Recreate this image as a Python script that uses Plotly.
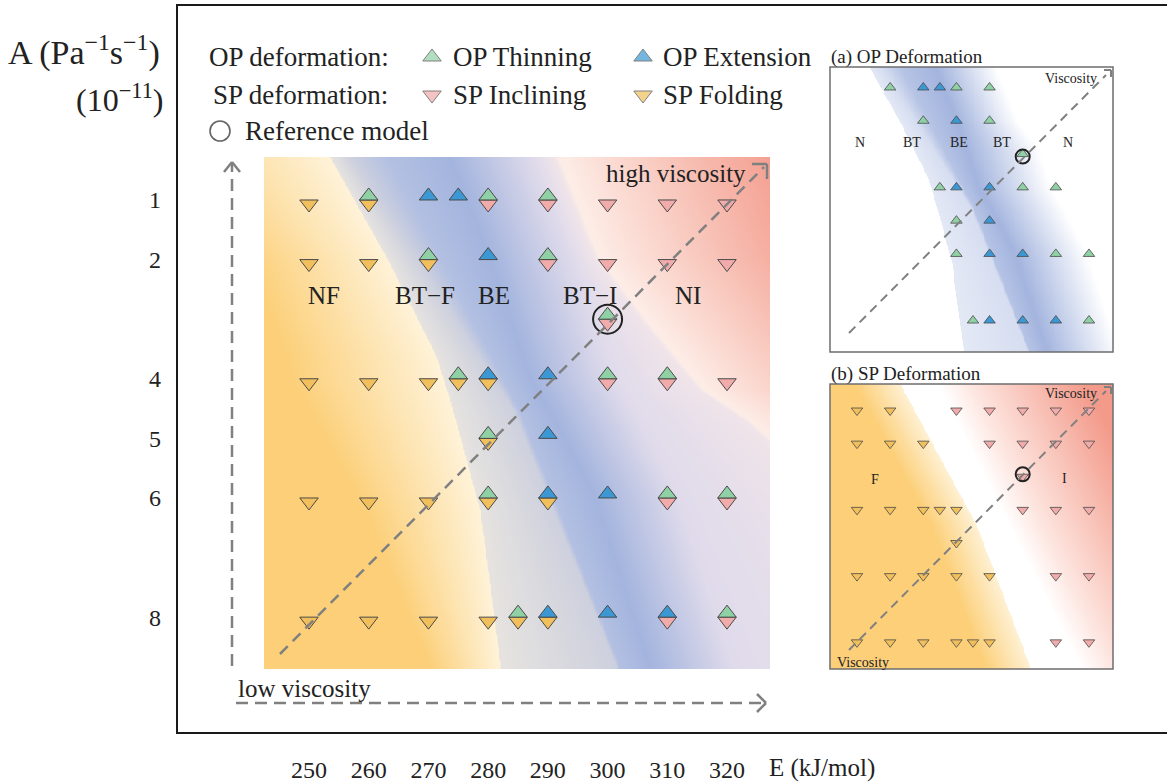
import numpy as np
import plotly.graph_objects as go

W, H = 1167, 784
SERIF = "Liberation Serif, Times New Roman, serif"
INK = "#222222"

# Model grid: activation energy E (kJ/mol) and prefactor A (1e-11 Pa^-1 s^-1)
op_thinning_E = [260, 280, 290, 270, 290, 300, 275, 300, 310, 280, 280, 310, 320, 285, 320]
op_thinning_A = [1, 1, 1, 2, 2, 3, 4, 4, 4, 5, 6, 6, 6, 8, 8]

op_extension_E = [270, 275, 280, 280, 290, 290, 290, 300, 290, 300, 310]
op_extension_A = [1, 1, 2, 4, 4, 5, 6, 6, 8, 8, 8]

sp_inclining_E = [280, 290, 300, 310, 320, 290, 300, 310, 320, 300, 300, 310, 320, 310, 320, 310, 320]
sp_inclining_A = [1, 1, 1, 1, 1, 2, 2, 2, 2, 3, 4, 4, 4, 6, 6, 8, 8]

sp_folding_E = [250, 260, 250, 260, 270, 250, 260, 270, 275, 280, 280,
                250, 260, 270, 280, 290, 250, 260, 270, 280, 285, 290]
sp_folding_A = [1, 1, 2, 2, 2, 4, 4, 4, 4, 4, 5, 6, 6, 6, 6, 6, 8, 8, 8, 8, 8, 8]

reference_E = [300]
reference_A = [3]

E_ticks = [250, 260, 270, 280, 290, 300, 310, 320]
A_ticks = [1, 2, 4, 5, 6, 8]

regime_names = ["NF", "BT\u2212F", "BE", "BT\u2212I", "NI"]
regime_E = [252.5, 269.4, 281.0, 297.0, 313.5]
regime_A = [2.61, 2.61, 2.61, 2.61, 2.61]

op_names = ["N", "BT", "BE", "BT", "N"]
op_name_E = [250.9, 266.6, 280.8, 293.7, 313.6]
op_name_A = [2.59, 2.59, 2.59, 2.59, 2.59]

sp_names = ["F", "I"]
sp_name_E = [255.4, 312.7]
sp_name_A = [3.17, 3.14]

GREEN, BLUE, PINK, ORANGE = "#8fd1a4", "#3c98d4", "#f1abab", "#f1bf5c"
EDGE = "#4a4a4a"


# ---- regime boundaries used to shade the backgrounds ----
def edges(a):
    b1 = np.interp(a, [0.28, 1.95, 3.62, 4.53, 6.2, 8.8], [253.5, 262.9, 271.3, 274.1, 278.6, 282.0])
    b2 = np.interp(a, [0.28, 4.53, 8.8], [263.0, 285.2, 301.9])
    c = np.interp(a, [0.28, 2, 4, 4.53, 5.92, 8.8], [273.6, 280.3, 287.0, 290.2, 297.6, 307.0])
    b3 = np.interp(a, [0.28, 1.95, 3.07, 4.17, 4.67, 5.2, 6, 8.8],
                   [291.9, 298.6, 307.0, 316.0, 323.5, 329.5, 338.0, 365.7])
    return b1, b2, c, b3


eg = np.linspace(241.0, 328.5, 320)
ag = np.linspace(0.15, 9.0, 320)

U = np.empty((ag.size, eg.size))
V = np.empty_like(U)
S = np.empty_like(U)
for i, a in enumerate(ag):
    b1, b2, c, b3 = edges(a)
    wo = np.interp(a, [0.28, 2, 4, 8.8], [30, 24, 26, 12])
    bw = np.interp(a, [0.28, 4.5, 8.8], [6, 1, 0.6])
    U[i] = np.interp(eg, [b1 - wo, b1 - 0.05, b1 + 0.05, b2 - bw, b2, c, c + 14, b3 - 1, b3, b3 + 38],
                     [0, 1, 1.02, 1.3, 1.7, 2, 3, 3.4, 3.5, 4.5])
    end = min(b3, c + 22)
    V[i] = np.interp(eg, [b1 - 0.05, b1 + 0.05, b2 - bw, b2, c, end], [0, 0.3, 0.45, 0.8, 1, 0])
    e1 = np.interp(a, [0.25, 4.53, 8.78], [262.9, 286.0, 302.1])
    e2 = np.interp(a, [0.25, 8.78], [274.1, 317.0])
    S[i] = np.where(eg < e1, -(0.15 + 0.85 * np.clip((e1 - eg) / 14, 0, 1)),
                    np.clip((eg - e2) / 45, 0, 1))

main_scale = [[0, "#fccf78"], [1 / 4.5, "#fef2d8"], [1.02 / 4.5, "#e6e3df"], [1.3 / 4.5, "#cdd0de"],
              [1.7 / 4.5, "#b3c0e2"], [2 / 4.5, "#a3b4de"], [3 / 4.5, "#e0dbeb"],
              [3.4 / 4.5, "#f0e4e9"], [3.5 / 4.5, "#fdede7"], [1, "#f39a8a"]]
op_scale = [[0, "#ffffff"], [1, "#a3b4de"]]
sp_scale = [[0, "#fccf78"], [0.42, "#fef0d2"], [0.4999, "#fef3dc"], [0.5, "#ffffff"],
            [0.62, "#fde4de"], [1, "#f39a8a"]]

fig = go.Figure()
fig.add_trace(go.Heatmap(x=eg, y=ag, z=np.round(U / 4.5, 4), zmin=0, zmax=1, colorscale=main_scale,
                         zsmooth="best", showscale=False, hoverinfo="skip", xaxis="x", yaxis="y"))
fig.add_trace(go.Heatmap(x=eg, y=ag, z=np.round(V, 4), zmin=0, zmax=1, colorscale=op_scale,
                         zsmooth="best", showscale=False, hoverinfo="skip", xaxis="x2", yaxis="y2"))
fig.add_trace(go.Heatmap(x=eg, y=ag, z=np.round((S + 1) / 2, 4), zmin=0, zmax=1, colorscale=sp_scale,
                         zsmooth="best", showscale=False, hoverinfo="skip", xaxis="x3", yaxis="y3"))


def tri(E, A, color, up, size, lw, xa, ya, name):
    # triangles sit on the grid line: OP points upward above it, SP points downward below it
    return go.Scatter(x=E, y=A, mode="markers", name=name, xaxis=xa, yaxis=ya, hoverinfo="skip",
                      marker=dict(symbol="triangle-down", angle=180 if up else 0, standoff=size / 4,
                                  size=size, color=color, line=dict(color=EDGE, width=lw)))


for xa, ya, size, lw, ring, show_op, show_sp in [("x", "y", 16, 1.0, 29, True, True),
                                                  ("x2", "y2", 10, 0.8, 14, True, False),
                                                  ("x3", "y3", 10, 0.8, 14, False, True)]:
    if show_sp:
        fig.add_trace(tri(sp_inclining_E, sp_inclining_A, PINK, False, size, lw, xa, ya, "SP Inclining"))
        fig.add_trace(tri(sp_folding_E, sp_folding_A, ORANGE, False, size, lw, xa, ya, "SP Folding"))
    if show_op:
        fig.add_trace(tri(op_thinning_E, op_thinning_A, GREEN, True, size, lw, xa, ya, "OP Thinning"))
        fig.add_trace(tri(op_extension_E, op_extension_A, BLUE, True, size, lw, xa, ya, "OP Extension"))
    fig.add_trace(go.Scatter(x=reference_E, y=reference_A, mode="markers", name="Reference model",
                             xaxis=xa, yaxis=ya, hoverinfo="skip",
                             marker=dict(symbol="circle-open", size=ring, color=INK,
                                         line=dict(color=INK, width=2))))

# legend keys, drawn on a full-page pixel axis
key_x = [432, 643, 432, 643, 220]
key_y = [57, 57, 95, 95, 131]
key_sym = ["triangle-up", "triangle-up", "triangle-down", "triangle-down", "circle-open"]
key_col = [GREEN, BLUE, PINK, ORANGE, INK]
key_size = [16, 16, 16, 16, 20]
fig.add_trace(go.Scatter(x=key_x, y=key_y, mode="markers", xaxis="x4", yaxis="y4", hoverinfo="skip",
                         marker=dict(symbol=key_sym, color=key_col, size=key_size,
                                     line=dict(color=[EDGE] * 4 + [INK], width=[1, 1, 1, 1, 1.6]))))


def dom_x(a, b):
    return [a / W, b / W]


def dom_y(top, bottom):
    return [1 - bottom / H, 1 - top / H]


hidden = dict(showgrid=False, zeroline=False, showline=False, ticks="", showticklabels=False)
fig.update_layout(
    width=W, height=H, margin=dict(l=0, r=0, t=0, b=0),
    paper_bgcolor="white", plot_bgcolor="rgba(0,0,0,0)", showlegend=False,
    font=dict(family=SERIF, color=INK),
    xaxis=dict(domain=dom_x(264, 770), range=[242.46, 327.2], tickvals=E_ticks,
               ticktext=[str(v) for v in E_ticks], showgrid=False, zeroline=False, showline=False,
               ticks="", ticklabelstandoff=84, tickfont=dict(family=SERIF, size=24, color=INK)),
    yaxis=dict(domain=dom_y(157, 669), range=[8.87, 0.279], tickvals=A_ticks,
               ticktext=[str(v) for v in A_ticks], showgrid=False, zeroline=False, showline=False,
               ticks="", ticklabelstandoff=102, tickfont=dict(family=SERIF, size=24, color=INK)),
    xaxis2=dict(domain=dom_x(830, 1113), range=[241.85, 327.25], anchor="y2", **hidden),
    yaxis2=dict(domain=dom_y(67, 352), range=[8.87, 0.31], anchor="x2", **hidden),
    xaxis3=dict(domain=dom_x(830, 1113), range=[241.85, 327.25], anchor="y3", **hidden),
    yaxis3=dict(domain=dom_y(384, 669), range=[8.88, 0.275], anchor="x3", **hidden),
    xaxis4=dict(domain=[0, 1], range=[0, W], anchor="y4", **hidden),
    yaxis4=dict(domain=[0, 1], range=[H, 0], anchor="x4", **hidden),
)


def line(x0, y0, x1, y1, color="#808080", width=2.5, dash=None):
    ln = dict(color=color, width=width)
    if dash:
        ln["dash"] = dash
    return dict(type="line", xref="paper", yref="paper", x0=x0 / W, y0=1 - y0 / H,
                x1=x1 / W, y1=1 - y1 / H, line=ln, layer="above")


shapes = [
    # outer frame
    dict(type="rect", xref="paper", yref="paper", x0=177 / W, y0=1 - 733 / H, x1=1.01, y1=1 - 5 / H,
         line=dict(color="#1a1a1a", width=2), layer="below"),
    # inset frames
    dict(type="rect", xref="paper", yref="paper", x0=830 / W, y0=1 - 352 / H, x1=1113 / W, y1=1 - 67 / H,
         line=dict(color="#6e6e6e", width=1.5), layer="above"),
    dict(type="rect", xref="paper", yref="paper", x0=830 / W, y0=1 - 669 / H, x1=1113 / W, y1=1 - 384 / H,
         line=dict(color="#6e6e6e", width=1.5), layer="above"),
    # viscosity arrows of the main panel
    line(280, 654, 764, 167, dash="11px,7px"),
    line(752, 164, 767, 164), line(767, 164, 767, 179),
    line(232, 666, 232, 163, dash="12px,7px"),
    line(224, 172, 232, 162), line(232, 162, 240, 172),
    line(236, 703, 764, 703, dash="12px,7px"),
    line(757, 694, 766, 703), line(766, 703, 757, 712),
    # viscosity arrows of the insets
    line(849, 333, 1106, 75, width=2, dash="9px,6px"),
    line(1104, 70, 1111, 70, width=2), line(1111, 70, 1111, 77, width=2),
    line(849, 650, 1106, 391, width=2, dash="9px,6px"),
    line(1104, 387, 1111, 387, width=2), line(1111, 387, 1111, 394, width=2),
]


def text(t, x, y, size, xanchor="left"):
    return dict(text=t, x=x / W, y=1 - y / H, xref="paper", yref="paper", xanchor=xanchor,
                yanchor="middle", showarrow=False, font=dict(family=SERIF, size=size, color=INK))


ann = [
    text("A (Pa<sup>\u22121</sup>s<sup>\u22121</sup>)", 6, 50, 34),
    text("(10<sup>\u221211</sup>)", 166, 98, 32, xanchor="right"),
    text("OP deformation:", 207, 57, 27),
    text("SP deformation:", 211, 95, 27),
    text("Reference model", 243, 131, 27),
    text("OP Thinning", 451, 57, 27),
    text("OP Extension", 661, 57, 27),
    text("SP Inclining", 451, 95, 27),
    text("SP Folding", 661, 95, 27),
    text("high viscosity", 676, 173, 25, xanchor="center"),
    text("low viscosity", 236, 688, 25),
    text("E (kJ/mol)", 767, 768, 25),
    text("(a) OP Deformation", 829, 57, 19),
    text("(b) SP Deformation", 829, 374, 19),
    text("Viscosity", 1099, 79, 14, xanchor="right"),
    text("Viscosity", 1099, 393, 14, xanchor="right"),
    text("Viscosity", 835, 662, 14),
]
for n, e, a in zip(regime_names, regime_E, regime_A):
    ann.append(dict(text=n, x=e, y=a, xref="x", yref="y", showarrow=False,
                    font=dict(family=SERIF, size=25, color=INK)))
for n, e, a in zip(op_names, op_name_E, op_name_A):
    ann.append(dict(text=n, x=e, y=a, xref="x2", yref="y2", showarrow=False,
                    font=dict(family=SERIF, size=14, color=INK)))
for n, e, a in zip(sp_names, sp_name_E, sp_name_A):
    ann.append(dict(text=n, x=e, y=a, xref="x3", yref="y3", showarrow=False,
                    font=dict(family=SERIF, size=14, color=INK)))

fig.update_layout(shapes=shapes, annotations=ann)
fig.write_html("out.html")
